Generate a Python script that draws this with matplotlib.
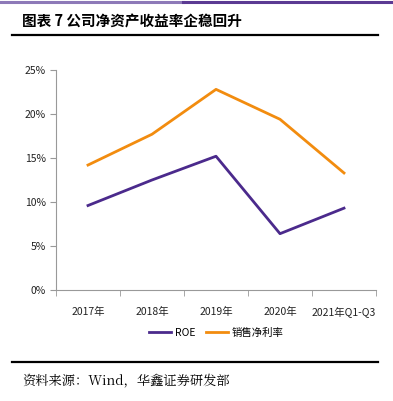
import matplotlib.pyplot as plt
from matplotlib.lines import Line2D

plt.rcParams['font.family'] = ['Noto Sans CJK SC', 'DejaVu Sans']

# data
years = ["2017年", "2018年", "2019年", "2020年", "2021年Q1-Q3"]
roe = [9.6, 12.5, 15.2, 6.4, 9.3]
net_margin = [14.2, 17.7, 22.8, 19.4, 13.3]

W, H = 393, 401
fig = plt.figure(figsize=(W / 100, H / 100), dpi=100)

# top purple strip
fig.add_artist(Line2D([0, 183 / W], [1 - 1.5 / H, 1 - 1.5 / H], color="#8d79b8", lw=2.2))
fig.add_artist(Line2D([183 / W, 1], [1 - 1.5 / H, 1 - 1.5 / H], color="#5b3a93", lw=2.2))

fig.text(22 / W, 1 - 22 / H, "图表 7 公司净资产收益率企稳回升", fontsize=10.5,
         family=['Noto Sans CJK SC', 'DejaVu Sans'], va="center", ha="left", weight="bold")
fig.add_artist(Line2D([12 / W, 378 / W], [1 - 35 / H, 1 - 35 / H], color="black", lw=1.6))
fig.add_artist(Line2D([12 / W, 378 / W], [1 - 362 / H, 1 - 362 / H], color="black", lw=1.6))
fig.text(22 / W, 1 - 380 / H, "资料来源：Wind，华鑫证券研发部", fontsize=9.5,
         family=['Noto Serif CJK SC', 'Noto Sans CJK SC', 'DejaVu Serif'], va="center", ha="left")

ax = fig.add_axes([56 / W, 1 - 290 / H, 320 / W, 220 / H])
x = range(len(years))
ax.plot(x, roe, color="#4b2a8c", lw=2, label="ROE")
ax.plot(x, net_margin, color="#f28c0f", lw=2, label="销售净利率")

ax.set_xlim(-0.5, len(years) - 0.5)
ax.set_ylim(0, 25)
ax.set_yticks([0, 5, 10, 15, 20, 25])
ax.set_yticklabels([f"{v}%" for v in [0, 5, 10, 15, 20, 25]])
ax.set_xticks(x)
ax.set_xticklabels(years)
ax.set_xticks([i - 0.5 for i in range(len(years) + 1)], minor=True)
ax.tick_params(axis="x", which="major", length=0, pad=12, labelsize=7.5, colors="#222222")
ax.tick_params(axis="x", which="minor", length=4, color="#999999")
ax.tick_params(axis="y", length=4, color="#999999", labelsize=7.5, colors="#222222")
for s in ["top", "right"]:
    ax.spines[s].set_visible(False)
for s in ["left", "bottom"]:
    ax.spines[s].set_color("#999999")

ax.legend(loc="upper center", bbox_to_anchor=(0.5, -0.13), ncol=2, frameon=False,
          fontsize=7.5, handlelength=2.2, handletextpad=0.3, columnspacing=1.0)

fig.savefig("out.png", dpi=100)
